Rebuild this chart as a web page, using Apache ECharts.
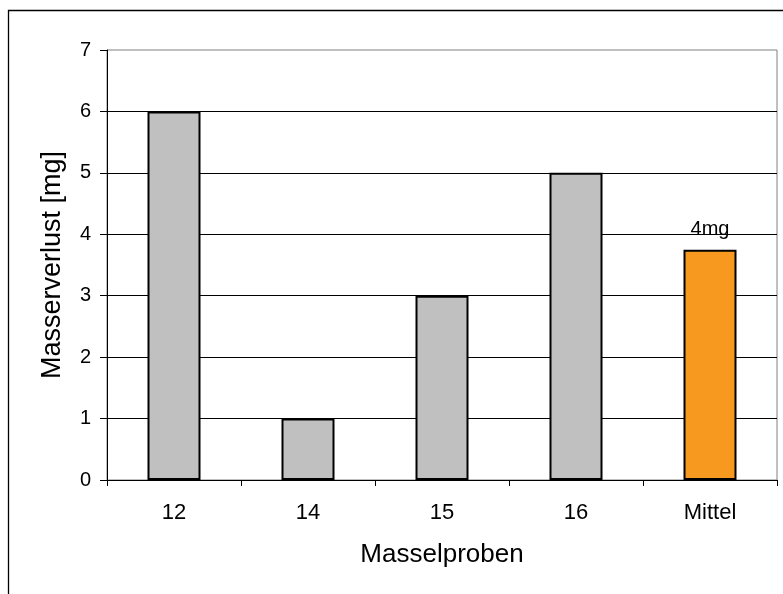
<!DOCTYPE html>
<html>
<head>
<meta charset="utf-8">
<script src="https://cdn.jsdelivr.net/npm/echarts@6/dist/echarts.min.js"></script>
<style>
html,body{margin:0;padding:0;background:#fff;}
#c{width:783px;height:594px;}
</style>
</head>
<body>
<div id="c"></div>
<script>
const categories = ['12', '14', '15', '16', 'Mittel'];
const values = [6, 1, 3, 5, 3.75];
const highlightIndex = 4;
const yTicks = [0, 1, 2, 3, 4, 5, 6, 7];
const xTitle = 'Masselproben';
const yTitle = 'Masserverlust [mg]';

const FONT = "'Liberation Sans', Arial, sans-serif";
const chart = echarts.init(document.getElementById('c'), null, {renderer: 'canvas'});

const barData = values.map((v, i) => {
  if (i === highlightIndex) {
    return {
      value: v,
      itemStyle: {color: '#F7991F'},
      label: {
        show: true,
        position: 'top',
        distance: 10,
        formatter: p => Math.round(p.value) + 'mg',
        fontFamily: FONT,
        fontSize: 20,
        color: '#000'
      }
    };
  }
  return v;
});

chart.setOption({
  animation: false,
  backgroundColor: '#fff',
  graphic: [{
    type: 'rect',
    shape: {x: 8.5, y: 10.5, width: 900, height: 700},
    style: {fill: 'none', stroke: '#000', lineWidth: 1.3},
    silent: true,
    z: -10
  }],
  grid: {
    left: 107, top: 50, right: 6, bottom: 114,
    show: true,
    borderColor: '#808080',
    borderWidth: 1,
    backgroundColor: 'transparent'
  },
  xAxis: {
    type: 'category',
    data: categories,
    boundaryGap: true,
    name: xTitle,
    nameLocation: 'middle',
    nameGap: 62,
    nameTextStyle: {fontFamily: FONT, fontSize: 26, color: '#000'},
    axisLine: {show: true, lineStyle: {color: '#000', width: 1}},
    axisTick: {show: true, inside: false, length: 6, alignWithLabel: false, lineStyle: {color: '#000'}},
    axisLabel: {fontFamily: FONT, fontSize: 22, color: '#000', margin: 22},
    splitLine: {show: false}
  },
  yAxis: {
    type: 'value',
    min: yTicks[0],
    max: yTicks[yTicks.length - 1],
    interval: 1,
    name: yTitle,
    nameLocation: 'middle',
    nameGap: 41,
    nameTextStyle: {fontFamily: FONT, fontSize: 27, color: '#000'},
    axisLine: {show: true, lineStyle: {color: '#000', width: 1}},
    axisTick: {show: true, inside: false, length: 7, lineStyle: {color: '#000'}},
    axisLabel: {fontFamily: FONT, fontSize: 20, color: '#000', margin: 16},
    splitLine: {show: true, showMaxLine: false, lineStyle: {color: '#000', width: 1}}
  },
  series: [{
    type: 'bar',
    data: barData,
    barWidth: 53,
    itemStyle: {color: '#C0C0C0', borderColor: '#000', borderWidth: 2},
    z: 3
  }]
});
</script>
</body>
</html>
